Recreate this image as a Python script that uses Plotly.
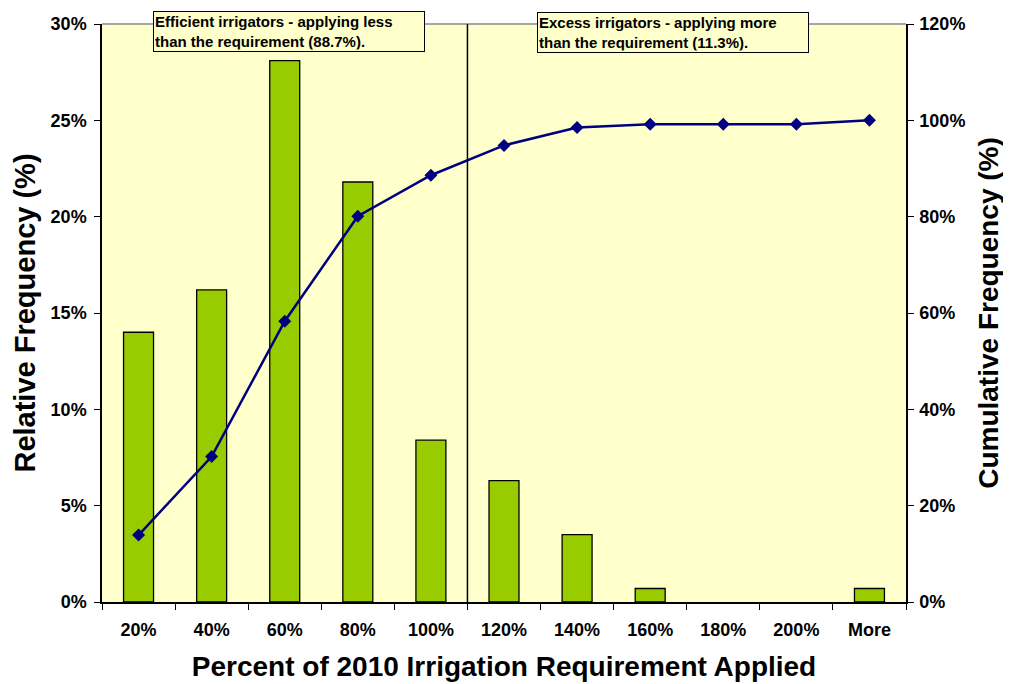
import plotly.graph_objects as go

categorias = ["20%", "40%", "60%", "80%", "100%", "120%", "140%", "160%", "180%", "200%", "More"]
frec_relativa = [14.0, 16.2, 28.1, 21.8, 8.4, 6.3, 3.5, 0.7, 0.0, 0.0, 0.7]
frec_acumulada = [13.9, 30.2, 58.3, 80.1, 88.6, 94.8, 98.5, 99.2, 99.2, 99.2, 100.0]

fuente = "Liberation Sans, Arial, sans-serif"

fig = go.Figure()

# barras: frecuencia relativa (sin borde en las barras vacias)
bordes = [1.3 if v > 0 else 0 for v in frec_relativa]
fig.add_trace(go.Bar(x=categorias, y=frec_relativa, width=0.41,
                     marker=dict(color="#99CC00", line=dict(color="black", width=bordes)),
                     yaxis="y", showlegend=False))

# linea: frecuencia acumulada
fig.add_trace(go.Scatter(x=categorias, y=frec_acumulada, mode="lines+markers",
                         line=dict(color="#000080", width=2.5),
                         marker=dict(symbol="diamond", size=10, color="#000080"),
                         yaxis="y2", showlegend=False))

# la pagina tiene 8px de margen en el body
fig.update_layout(
    width=1003, height=676,
    margin=dict(l=94, r=105, t=16, b=82, autoexpand=False),
    paper_bgcolor="white",
    plot_bgcolor="#FFFFCC",
    font=dict(family=fuente, color="black"),
    xaxis=dict(type="category", showline=True, linecolor="black", linewidth=1.5,
               ticks="outside", ticklen=6, tickcolor="black", tickson="boundaries",
               tickfont=dict(size=18, family=fuente, weight="bold"), ticklabelstandoff=11,
               title=dict(text="<b>Percent of 2010 Irrigation Requirement Applied</b>",
                          font=dict(size=28), standoff=17),
               range=[-0.5, 10.5], showgrid=False, automargin=False),
    yaxis=dict(range=[0, 30], dtick=5, ticksuffix="%", showline=True, linecolor="black",
               linewidth=1.5, ticks="outside", ticklen=6, tickcolor="black",
               tickfont=dict(size=18, weight="bold"), ticklabelstandoff=4,
               showgrid=False, zeroline=False, automargin=False,
               title=dict(text="<b>Relative Frequency (%)</b>", font=dict(size=29), standoff=6)),
    yaxis2=dict(range=[0, 120], dtick=20, ticksuffix="%", overlaying="y", side="right",
                showline=True, linecolor="black", linewidth=1.5, ticks="outside", ticklen=6,
                tickcolor="black", tickfont=dict(size=18, weight="bold"), ticklabelstandoff=2,
                showgrid=False, zeroline=False, automargin=False,
                title=dict(text="<b>Cumulative Frequency (%)</b>", font=dict(size=28), standoff=14)),
)

# borde superior gris y linea divisoria
fig.add_shape(type="line", xref="paper", yref="paper", x0=0, x1=1, y0=1, y1=1,
              line=dict(color="#888888", width=1.5))
fig.add_shape(type="line", xref="x", yref="paper", x0=4.5, x1=4.5, y0=0, y1=1,
              line=dict(color="black", width=1.5))

fig.add_annotation(xref="paper", yref="paper", x=0.0634, y=1.0225, xanchor="left", yanchor="top",
                   text="<b>Efficient irrigators - applying less<br>than the requirement (88.7%).</b>",
                   showarrow=False, align="left", width=268, borderpad=1,
                   bgcolor="#FFFFCC", bordercolor="black", borderwidth=1,
                   font=dict(size=15, family=fuente))
fig.add_annotation(xref="paper", yref="paper", x=0.541, y=1.0208, xanchor="left", yanchor="top",
                   text="<b>Excess irrigators - applying more<br>than the requirement (11.3%).</b>",
                   showarrow=False, align="left", width=268, borderpad=1,
                   bgcolor="#FFFFCC", bordercolor="black", borderwidth=1,
                   font=dict(size=15, family=fuente))

fig.write_html("out.html")
